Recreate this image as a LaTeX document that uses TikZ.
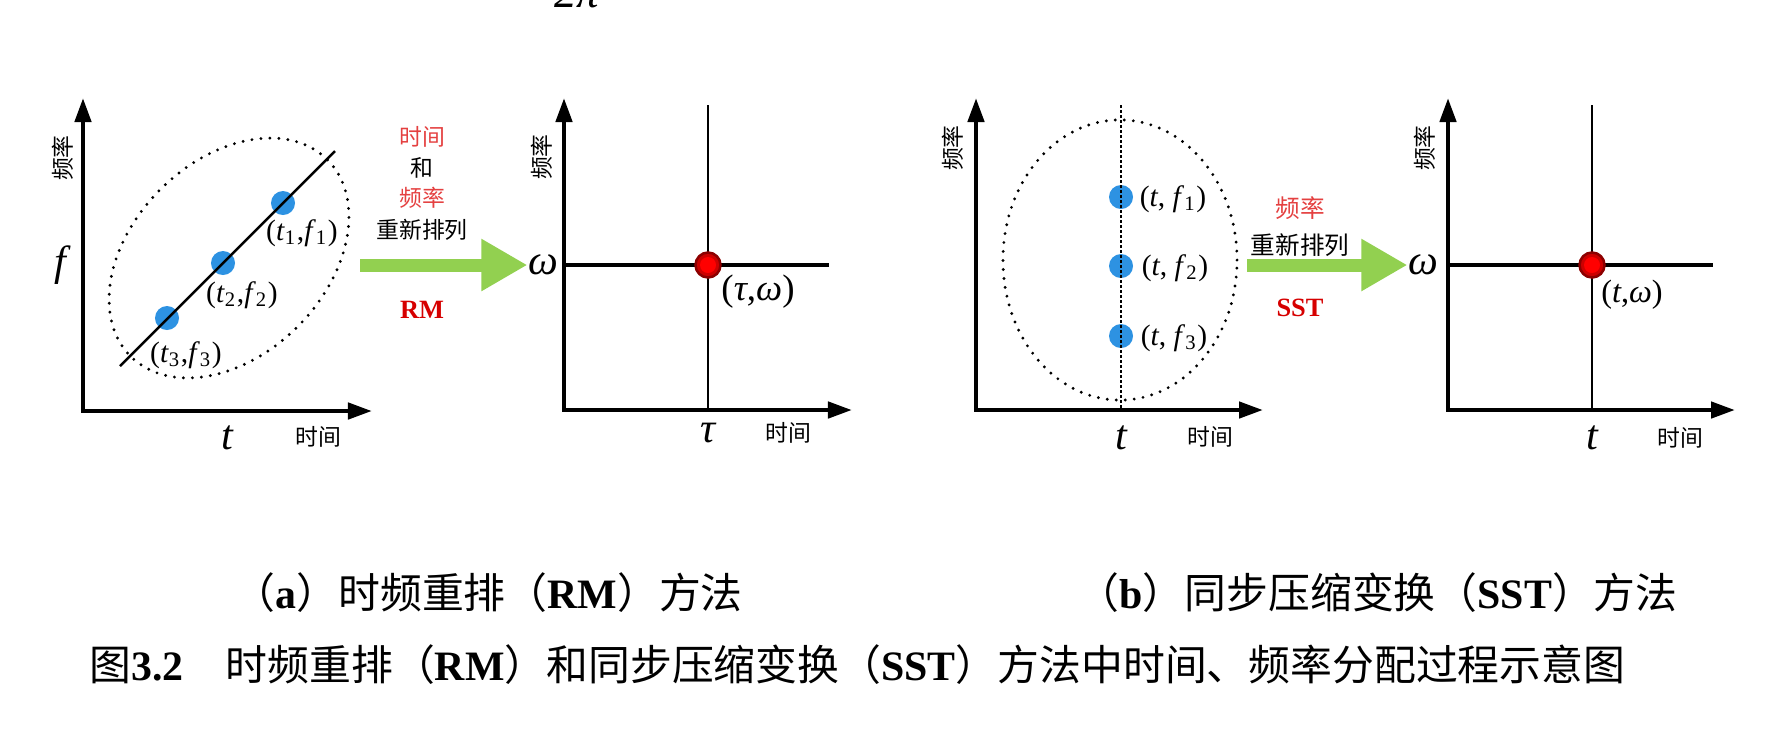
\documentclass[tikz,border=0pt]{standalone}
\usepackage{fontspec}
\setmainfont{Liberation Serif}
\newfontfamily\cjk{Noto Sans CJK SC}
\usetikzlibrary{arrows.meta}
\definecolor{dotblue}{RGB}{45,146,226}
\definecolor{arrgreen}{RGB}{146,208,80}
\definecolor{txtred}{RGB}{228,64,64}
\definecolor{boldred}{RGB}{214,0,0}
\definecolor{ringred}{RGB}{140,0,0}
\definecolor{hitred}{RGB}{205,0,0}

\begin{document}
\begin{tikzpicture}[x=0.01cm, y=-0.01cm,
  axis/.style={line width=0.45mm, {Triangle[length=2.4mm,width=1.6mm]}-{Triangle[length=2.4mm,width=1.6mm]}},
  guide/.style={line width=0.25mm},
  level/.style={line width=0.45mm},
  dots/.style={line width=0.32mm, dash pattern=on 0pt off 0.9mm, line cap=round},
  finedots/.style={line width=0.2mm, dash pattern=on 0.25mm off 0.25mm},
  bigarrow/.style={arrgreen, line width=1.3mm, -{Triangle[length=4.6mm,width=4.9mm]}},
  pt/.style={circle, fill=dotblue, minimum size=2.4mm, inner sep=0},
  hit/.style={circle, fill=hitred, draw=ringred, line width=0.25mm, minimum size=2.5mm, inner sep=0,
    path picture={\fill[red] (path picture bounding box.center) circle (0.8mm);}},
  sym/.style={font=\fontsize{12}{14}\selectfont\itshape, inner sep=0},
  lab/.style={font=\fontsize{8.4}{10}\selectfont, inner sep=0},
  zh/.style={font=\fontsize{6.5}{8}\selectfont\cjk, inner sep=0},
  zhb/.style={font=\fontsize{7}{8}\selectfont\cjk, inner sep=0},
  tag/.style={font=\fontsize{7.5}{9}\selectfont\bfseries, text=boldred, inner sep=0},
  captext/.style={font=\fontsize{11.9}{14}\selectfont, inner sep=0, anchor=west}]
\useasboundingbox (0,0) rectangle (1782,735);

  %cut-off line above
  \node[font=\fontsize{12.8}{14}\selectfont\itshape, anchor=base] (top) at (577,7) {2π};

  %RM before
  \coordinate (RMA) at (83,98);
  \coordinate (RMB) at (372,411);
  \coordinate (RMC) at (229,258);
  \coordinate (RMD) at (120,366);
  \coordinate (RME) at (335,151);
  \coordinate (RMS) at (360,265);

  \draw[axis] (RMA) |- (RMB);
  \draw[dots, rotate around={45:(RMC)}] (RMC) ellipse [x radius=13.9mm, y radius=9.7mm];
  \node[pt] (RM1) at (283,203) {};
  \node[pt] (RM2) at (223,263) {};
  \node[pt] (RM3) at (167,318) {};
  \draw[guide] (RMD) -- (RME);
  \node[lab] (RM1l) at (302,233) {(\textit{t}\textsubscript{1},\textit{f}\textsubscript{1})};
  \node[lab] (RM2l) at (242,295) {(\textit{t}\textsubscript{2},\textit{f}\textsubscript{2})};
  \node[lab] (RM3l) at (186,355) {(\textit{t}\textsubscript{3},\textit{f}\textsubscript{3})};
  \node[sym] (RMf) at (60,265) {f};
  \node[sym] (RMt) at (227,438) {t};
  \node[zh] (RMx) at (318,437) {时间};
  \node[zh, rotate=90] (RMy) at (63,158) {频率};

  %RM arrow
  \node[zh, text=txtred] (RMa) at (422,137) {时间};
  \node[zh] (RMb) at (422,168) {和};
  \node[zh, text=txtred] (RMc) at (422,198) {频率};
  \node[zh] (RMd) at (422,230) {重新排列};
  \node[tag] (RMe) at (422,310) {RM};

  %RM after
  \coordinate (RMTA) at (564,98);
  \coordinate (RMTB) at (852,410);
  \coordinate (RMTC) at (708,105);
  \coordinate (RMTD) at (708,410);
  \coordinate (RMTE) at (829,265);
  \coordinate (RMTF) at (564,265);

  \draw[axis] (RMTA) |- (RMTB);
  \draw[guide] (RMTC) -- (RMTD);
  \draw[level] (RMTF) -- (RMTE);
  \node[hit] (RMTp) at (708,265) {};
  \node[sym, font=\fontsize{10.5}{12}\selectfont] (RMTl) at (758,292) {(\textit{τ},\textit{ω})};
  \node[sym] (RMTw) at (543,265) {ω};
  \node[sym] (RMTt) at (708,433) {τ};
  \node[zh] (RMTx) at (788,433) {时间};
  \node[zh, rotate=90] (RMTy) at (542,157) {频率};
  \draw[bigarrow] (RMS) -- (RMTw.west);

  %SST before
  \coordinate (SSTA) at (976,98);
  \coordinate (SSTB) at (1263,410);
  \coordinate (SSTC) at (1121,105);
  \coordinate (SSTD) at (1121,410);
  \coordinate (SSTE) at (1120,260);
  \coordinate (SSTS) at (1247,265);

  \draw[axis] (SSTA) |- (SSTB);
  \draw[dots] (SSTE) ellipse [x radius=11.7mm, y radius=14mm];
  \node[pt] (SST1) at (1121,197) {};
  \node[pt] (SST2) at (1121,266) {};
  \node[pt] (SST3) at (1121,336) {};
  \draw[finedots] (SSTC) -- (SSTD);
  \node[lab] (SST1l) at (1173,199) {(\textit{t}, \textit{f}\textsubscript{1})};
  \node[lab] (SST2l) at (1175,268) {(\textit{t}, \textit{f}\textsubscript{2})};
  \node[lab] (SST3l) at (1174,338) {(\textit{t}, \textit{f}\textsubscript{3})};
  \node[sym] (SSTt) at (1121,438) {t};
  \node[zh] (SSTx) at (1210,437) {时间};
  \node[zh, rotate=90] (SSTy) at (953,148) {频率};

  %SST arrow
  \node[zhb, text=txtred] (SSTa) at (1300,208) {频率};
  \node[zhb] (SSTb) at (1300,245) {重新排列};
  \node[tag] (SSTc) at (1300,308) {SST};

  %SST after
  \coordinate (SSTTA) at (1448,98);
  \coordinate (SSTTB) at (1735,410);
  \coordinate (SSTTC) at (1592,105);
  \coordinate (SSTTD) at (1592,410);
  \coordinate (SSTTE) at (1713,265);
  \coordinate (SSTTF) at (1448,265);

  \draw[axis] (SSTTA) |- (SSTTB);
  \draw[guide] (SSTTC) -- (SSTTD);
  \draw[level] (SSTTF) -- (SSTTE);
  \node[hit] (SSTTp) at (1592,265) {};
  \node[sym, font=\fontsize{9.2}{11}\selectfont] (SSTTl) at (1632,295) {(\textit{t},\textit{ω})};
  \node[sym] (SSTTw) at (1423,265) {ω};
  \node[sym] (SSTTt) at (1592,438) {t};
  \node[zh] (SSTTx) at (1680,438) {时间};
  \node[zh, rotate=90] (SSTTy) at (1425,148) {频率};
  \draw[bigarrow] (SSTS) -- (SSTTw.west);

  %captions
  \node[captext] (capa) at (233,593) {{\cjk （}\textbf{a}{\cjk ）时频重排（}\textbf{RM}{\cjk ）方法}};
  \node[captext] (capb) at (1077,593) {{\cjk （}\textbf{b}{\cjk ）同步压缩变换（}\textbf{SST}{\cjk ）方法}};
  \node[captext] (capm) at (89,665) {{\cjk 图}\textbf{3.2}\hspace{1em}{\cjk 时频重排（}\textbf{RM}{\cjk ）和同步压缩变换（}\textbf{SST}{\cjk ）方法中时间、频率分配过程示意图}};
\end{tikzpicture}
\end{document}
